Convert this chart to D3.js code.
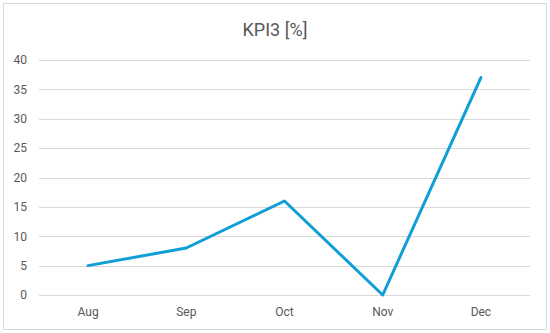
<!DOCTYPE html>
<meta charset="utf-8">
<style>
body { margin: 0; background: #fff; }
text { font-family: Roboto, "Open Sans", sans-serif; fill: #595959; }
.grid line { stroke: #d9d9d9; stroke-width: 1; }
.axis path, .axis line { display: none; }
</style>
<script src="https://d3js.org/d3.v7.min.js"></script>
<svg width="550" height="333"></svg>
<script>
var months = ["Aug", "Sep", "Oct", "Nov", "Dec"];
var kpi3 = [5, 8, 16, 0, 37];
var yTicks = [0, 5, 10, 15, 20, 25, 30, 35, 40];

var svg = d3.select("svg"),
    margin = {top: 60, right: 20, bottom: 38, left: 39},
    width = 550 - margin.left - margin.right,
    height = 333 - margin.top - margin.bottom;

svg.append("rect")
    .attr("x", 3.5).attr("y", 3.5)
    .attr("width", 543).attr("height", 326)
    .attr("fill", "#fff").attr("stroke", "#d9d9d9");

svg.append("text")
    .attr("x", 275).attr("y", 36)
    .attr("text-anchor", "middle")
    .style("font-size", "18px")
    .text("KPI3 [%]");

var x = d3.scaleBand().domain(months).range([0, width]);
var y = d3.scaleLinear().domain([0, 40]).range([height, 0]);

var g = svg.append("g")
    .attr("transform", "translate(" + margin.left + "," + margin.top + ")");

g.append("g").attr("class", "grid")
  .selectAll("line")
  .data(yTicks)
  .enter().append("line")
    .attr("x1", 0).attr("x2", width)
    .attr("y1", function(d) { return Math.round(y(d)) + 0.5; })
    .attr("y2", function(d) { return Math.round(y(d)) + 0.5; });

g.append("g")
    .attr("class", "axis")
    .call(d3.axisLeft(y).tickValues(yTicks).tickSize(0).tickPadding(12))
    .selectAll("text").style("font-size", "12px");

g.append("g")
    .attr("class", "axis")
    .attr("transform", "translate(0," + height + ")")
    .call(d3.axisBottom(x).tickSize(0).tickPadding(12))
    .selectAll("text").style("font-size", "12px");

var line = d3.line()
    .x(function(d, i) { return x(months[i]) + x.bandwidth() / 2; })
    .y(function(d) { return y(d); });

g.append("path")
    .datum(kpi3)
    .attr("fill", "none")
    .attr("stroke", "#0f9ed5")
    .attr("stroke-width", 3)
    .attr("stroke-linejoin", "round")
    .attr("stroke-linecap", "round")
    .attr("d", line);
</script>
